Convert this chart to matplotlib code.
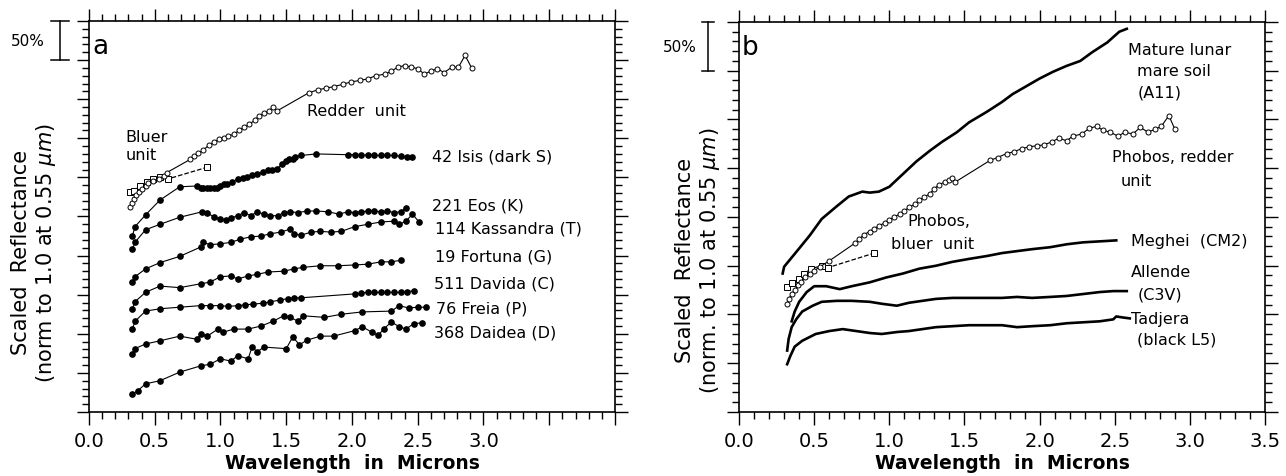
import numpy as np
import matplotlib
matplotlib.use('Agg')
import matplotlib.pyplot as plt
import matplotlib.transforms as mtransforms
from matplotlib.ticker import MultipleLocator

plt.rcParams['font.family'] = 'DejaVu Sans'

# ---- panel a: asteroids + Phobos (scaled, offset) ----
isis_wl = [0.33, 0.35, 0.43, 0.54, 0.69, 0.82, 0.85, 0.87, 0.90, 0.92, 0.95, 0.97,
           1.00, 1.03, 1.05, 1.09, 1.13, 1.17, 1.20, 1.24, 1.28, 1.32, 1.36, 1.39, 1.43, 1.47,
           1.50, 1.52, 1.55, 1.57, 1.61, 1.73,
           1.97, 2.02, 2.07, 2.12, 2.17, 2.22, 2.27, 2.32, 2.37, 2.42, 2.46]
isis_r = [2.25, 2.37, 2.52, 2.71, 2.88, 2.89, 2.87, 2.87, 2.87, 2.86, 2.87, 2.87,
          2.89, 2.92, 2.92, 2.94, 2.98, 2.99, 3.01, 3.03, 3.04, 3.07, 3.09, 3.09, 3.11, 3.17,
          3.21, 3.24, 3.24, 3.26, 3.28, 3.30,
          3.29, 3.29, 3.28, 3.29, 3.28, 3.28, 3.28, 3.28, 3.27, 3.26, 3.26]

eos_wl = [0.33, 0.35, 0.43, 0.54, 0.69, 0.86, 0.90, 0.95, 1.00, 1.04, 1.08, 1.13, 1.18,
          1.23, 1.28, 1.33, 1.38, 1.44, 1.48, 1.53, 1.59, 1.66, 1.73, 1.82, 1.90, 1.97,
          2.02, 2.07, 2.12, 2.17, 2.22, 2.27, 2.32, 2.37, 2.41]
eos_r = [2.08, 2.17, 2.33, 2.40, 2.49, 2.56, 2.55, 2.49, 2.47, 2.46, 2.48, 2.51, 2.55,
         2.51, 2.56, 2.53, 2.51, 2.51, 2.55, 2.56, 2.55, 2.57, 2.57, 2.56, 2.53, 2.56,
         2.55, 2.56, 2.57, 2.57, 2.56, 2.57, 2.55, 2.56, 2.61]

kas_wl = [0.33, 0.35, 0.43, 0.54, 0.69, 0.85, 0.87, 0.92, 1.00, 1.08, 1.15, 1.23, 1.31,
          1.38, 1.46, 1.53, 1.56, 1.61, 1.69, 1.76, 1.84, 1.92, 2.02, 2.12, 2.22, 2.32,
          2.36, 2.41, 2.46, 2.51]
kas_r = [1.66, 1.73, 1.83, 1.91, 1.99, 2.11, 2.17, 2.14, 2.15, 2.17, 2.21, 2.24, 2.25,
         2.28, 2.30, 2.34, 2.28, 2.26, 2.30, 2.31, 2.30, 2.31, 2.37, 2.40, 2.43, 2.44,
         2.40, 2.44, 2.53, 2.43]

for_wl = [0.33, 0.35, 0.43, 0.54, 0.69, 0.85, 0.92, 1.00, 1.08, 1.13, 1.21, 1.28, 1.36,
          1.48, 1.56, 1.63, 1.76, 1.89, 2.02, 2.12, 2.22, 2.30, 2.37]
for_r = [1.32, 1.41, 1.53, 1.61, 1.59, 1.64, 1.66, 1.73, 1.74, 1.70, 1.74, 1.76, 1.79,
         1.80, 1.83, 1.85, 1.87, 1.87, 1.88, 1.89, 1.92, 1.92, 1.94]

dav_wl = [0.33, 0.35, 0.43, 0.54, 0.69, 0.85, 0.92, 1.00, 1.06, 1.13, 1.19, 1.25, 1.32,
          1.38, 1.45, 1.51, 1.56, 1.61, 2.02, 2.07, 2.12, 2.17, 2.22, 2.27, 2.32, 2.37,
          2.42, 2.47]
dav_r = [1.06, 1.16, 1.29, 1.32, 1.34, 1.36, 1.36, 1.36, 1.35, 1.36, 1.37, 1.38, 1.39,
         1.41, 1.43, 1.45, 1.46, 1.46, 1.51, 1.52, 1.53, 1.53, 1.53, 1.53, 1.53, 1.53,
         1.54, 1.55]

fre_wl = [0.33, 0.35, 0.43, 0.54, 0.69, 0.82, 0.85, 0.90, 0.98, 1.02, 1.10, 1.21, 1.31,
          1.40, 1.48, 1.53, 1.59, 1.63, 1.79, 1.92, 2.08, 2.30, 2.36, 2.43, 2.50, 2.56]
fre_r = [0.74, 0.81, 0.87, 0.91, 0.97, 0.93, 1.00, 0.97, 1.06, 1.02, 1.06, 1.06, 1.10,
         1.16, 1.23, 1.21, 1.16, 1.23, 1.21, 1.25, 1.28, 1.29, 1.36, 1.33, 1.34, 1.34]

dai_wl = [0.33, 0.37, 0.43, 0.54, 0.69, 0.85, 0.92, 1.00, 1.08, 1.13, 1.21, 1.24, 1.28,
          1.33, 1.50, 1.55, 1.60, 1.66, 1.76, 1.86, 2.02, 2.08, 2.15, 2.20, 2.24, 2.30,
          2.36, 2.41, 2.47, 2.53]
dai_r = [0.23, 0.27, 0.36, 0.40, 0.51, 0.59, 0.61, 0.68, 0.65, 0.72, 0.68, 0.83, 0.77,
         0.83, 0.81, 0.96, 0.86, 0.92, 0.97, 0.97, 1.04, 1.09, 1.02, 0.98, 1.06, 1.15,
         1.09, 1.06, 1.13, 1.14]

phr_a_wl = [0.31, 0.33, 0.34, 0.36, 0.38, 0.40, 0.43, 0.45, 0.49, 0.53, 0.57, 0.59,
            0.77, 0.80, 0.83, 0.87, 0.91, 0.95, 0.99, 1.03, 1.06, 1.10, 1.14, 1.18, 1.22,
            1.26, 1.29, 1.33, 1.37, 1.40, 1.43,
            1.67, 1.74, 1.80, 1.86, 1.93, 1.99, 2.06, 2.12, 2.18, 2.25, 2.30, 2.35, 2.40,
            2.45, 2.50, 2.55, 2.60, 2.65, 2.70, 2.76, 2.81, 2.86, 2.91]
phr_a_r = [2.62, 2.67, 2.72, 2.77, 2.81, 2.85, 2.89, 2.93, 2.96, 2.98, 3.02, 3.06,
           3.23, 3.27, 3.31, 3.35, 3.41, 3.45, 3.49, 3.51, 3.53, 3.55, 3.60, 3.64, 3.68,
           3.73, 3.78, 3.82, 3.85, 3.90, 3.85,
           4.08, 4.12, 4.14, 4.16, 4.19, 4.22, 4.24, 4.26, 4.30, 4.32, 4.36, 4.41, 4.43,
           4.41, 4.39, 4.32, 4.36, 4.39, 4.34, 4.41, 4.41, 4.56, 4.40]

phb_a_wl = [0.31, 0.34, 0.39, 0.44, 0.49, 0.54, 0.60, 0.90]
phb_a_r = [2.81, 2.83, 2.89, 2.94, 2.98, 3.01, 2.98, 3.13]

asteroid_names = ['42 Isis (dark S)', '221 Eos (K)', '114 Kassandra (T)', '19 Fortuna (G)',
                  '511 Davida (C)', '76 Freia (P)', '368 Daidea (D)']

# ---- panel b: Phobos vs meteorites / lunar soil ----
lunar_wl = [0.29, 0.30, 0.38, 0.47, 0.55, 0.65, 0.73, 0.82, 0.87, 0.93, 1.00, 1.09, 1.18,
            1.27, 1.35, 1.45, 1.53, 1.65, 1.75, 1.82, 1.91, 2.00, 2.09, 2.18, 2.27, 2.35,
            2.45, 2.53, 2.58]
lunar_r = [1.42, 1.49, 1.64, 1.81, 1.98, 2.11, 2.21, 2.26, 2.25, 2.26, 2.31, 2.44, 2.57,
           2.68, 2.77, 2.87, 2.97, 3.08, 3.18, 3.26, 3.34, 3.42, 3.49, 3.55, 3.60, 3.69,
           3.79, 3.90, 3.93]

phr_b_wl = [0.32, 0.33, 0.35, 0.37, 0.39, 0.41, 0.44, 0.47, 0.50, 0.54, 0.60,
            0.77, 0.80, 0.83, 0.87, 0.90, 0.93, 0.97, 1.00, 1.03, 1.07, 1.10, 1.13, 1.17,
            1.20, 1.23, 1.27, 1.30, 1.33, 1.37, 1.40, 1.42, 1.44,
            1.67, 1.72, 1.78, 1.83, 1.88, 1.93, 1.98, 2.03, 2.08, 2.13, 2.18, 2.22, 2.28,
            2.33, 2.38, 2.42, 2.47, 2.52, 2.57, 2.62, 2.67, 2.72, 2.77, 2.81, 2.86, 2.90]
phr_b_r = [1.11, 1.16, 1.21, 1.25, 1.30, 1.33, 1.38, 1.42, 1.45, 1.49, 1.55,
           1.73, 1.77, 1.82, 1.85, 1.88, 1.91, 1.94, 1.97, 2.00, 2.03, 2.06, 2.10, 2.13,
           2.17, 2.20, 2.24, 2.29, 2.33, 2.36, 2.38, 2.40, 2.36,
           2.58, 2.61, 2.65, 2.67, 2.70, 2.72, 2.73, 2.74, 2.77, 2.81, 2.78, 2.83, 2.85,
           2.91, 2.93, 2.89, 2.87, 2.83, 2.87, 2.85, 2.92, 2.87, 2.90, 2.93, 3.04, 2.90]

phb_b_wl = [0.32, 0.35, 0.40, 0.43, 0.48, 0.55, 0.59, 0.90]
phb_b_r = [1.28, 1.32, 1.36, 1.42, 1.47, 1.50, 1.48, 1.63]

meg_wl = [0.35, 0.37, 0.40, 0.45, 0.50, 0.58, 0.67, 0.75, 0.87, 0.98, 1.09, 1.20, 1.31,
          1.42, 1.53, 1.65, 1.75, 1.85, 1.95, 2.07, 2.18, 2.29, 2.40, 2.51]
meg_r = [0.93, 1.03, 1.13, 1.23, 1.29, 1.29, 1.26, 1.29, 1.33, 1.38, 1.42, 1.47, 1.50,
         1.54, 1.57, 1.60, 1.63, 1.65, 1.67, 1.69, 1.72, 1.74, 1.75, 1.76]

all_wl = [0.32, 0.33, 0.35, 0.38, 0.42, 0.49, 0.55, 0.65, 0.75, 0.87, 0.95, 1.05, 1.13,
          1.22, 1.31, 1.42, 1.53, 1.65, 1.75, 1.85, 1.95, 2.07, 2.18, 2.29, 2.40, 2.49, 2.58]
all_r = [0.63, 0.75, 0.87, 0.95, 1.03, 1.09, 1.13, 1.14, 1.14, 1.13, 1.11, 1.09, 1.12,
         1.14, 1.16, 1.17, 1.17, 1.17, 1.17, 1.18, 1.17, 1.18, 1.19, 1.21, 1.23, 1.24, 1.24]

tad_wl = [0.32, 0.34, 0.37, 0.42, 0.51, 0.60, 0.69, 0.78, 0.87, 0.95, 1.05, 1.13, 1.22,
          1.31, 1.42, 1.53, 1.65, 1.75, 1.85, 1.95, 2.07, 2.18, 2.29, 2.40, 2.49, 2.51,
          2.55, 2.60]
tad_r = [0.49, 0.57, 0.67, 0.73, 0.80, 0.83, 0.85, 0.83, 0.81, 0.80, 0.82, 0.83, 0.85,
         0.87, 0.88, 0.89, 0.89, 0.89, 0.87, 0.88, 0.89, 0.91, 0.92, 0.93, 0.95, 0.98,
         0.97, 0.96]

xtick_a = ['0.0', '0.5', '1.0', '1.5', '2.0', '2.5', '3.0', '', '']
xtick_b = ['0.0', '0.5', '1.0', '1.5', '2.0', '2.5', '3.0', '3.5']


def style_axes(ax, xmax, ymax, labels):
    ax.set_xlim(0, xmax)
    ax.set_ylim(0, ymax)
    ax.set_xticks(np.arange(0, xmax + 0.01, 0.5))
    ax.set_xticklabels(labels)
    ax.xaxis.set_minor_locator(MultipleLocator(0.1))
    ax.yaxis.set_major_locator(MultipleLocator(0.5))
    ax.yaxis.set_minor_locator(MultipleLocator(0.1))
    ax.tick_params(which='both', direction='out', top=True, right=True,
                   labelleft=False, width=1)
    ax.tick_params(which='major', length=9, labelsize=14, pad=5)
    ax.tick_params(which='minor', length=5)
    for s in ax.spines.values():
        s.set_linewidth(1.2)
    ax.set_xlabel('Wavelength  in  Microns', fontsize=13.5, fontweight='bold', labelpad=2)


def scale_bar(ax, x, cap, y0, y1, tx):
    tr = mtransforms.blended_transform_factory(ax.transAxes, ax.transData)
    kw = dict(color='k', lw=1.1, transform=tr, clip_on=False)
    ax.plot([x, x], [y0, y1], **kw)
    ax.plot([x - cap, x + cap], [y0, y0], **kw)
    ax.plot([x - cap, x + cap], [y1, y1], **kw)
    ax.text(tx, (y0 + y1) / 2, '50%', transform=tr, ha='right', va='center', fontsize=11)


fig = plt.figure(figsize=(12.86, 4.77), dpi=100)
ax1 = fig.add_axes([0.0692, 0.1342, 0.4090, 0.8197])
ax2 = fig.add_axes([0.5747, 0.1342, 0.4090, 0.8176])

# panel a
dots = dict(color='k', marker='o', ms=3.8, lw=0.8)
for wl, r in [(isis_wl, isis_r), (eos_wl, eos_r), (kas_wl, kas_r), (for_wl, for_r),
              (dav_wl, dav_r), (fre_wl, fre_r), (dai_wl, dai_r)]:
    ax1.plot(wl, r, **dots)
ax1.plot(phb_a_wl, phb_a_r, color='k', ls='--', lw=0.9, marker='s', ms=4,
         mfc='white', mew=0.7)
ax1.plot(phr_a_wl, phr_a_r, color='k', lw=0.8, marker='o', ms=3.6, mfc='white', mew=0.7)

style_axes(ax1, 4.0, 5.0, xtick_a)
ax1.set_ylabel('Scaled  Reflectance\n(norm to 1.0 at 0.55 $\\mu m$)', fontsize=15,
               linespacing=1.2)
ax1.yaxis.set_label_coords(-0.058, 0.41)
scale_bar(ax1, -0.055, 0.017, 4.5, 5.0, -0.084)
ax1.text(0.09, 4.68, 'a', fontsize=19, ha='center', va='center')
ax1.text(0.275, 3.41, 'Bluer\nunit', fontsize=11.5, ha='left', va='center', linespacing=1.3)
ax1.text(1.66, 3.86, 'Redder  unit', fontsize=11.5, ha='left', va='center')
name_y = [3.27, 2.65, 2.35, 2.00, 1.65, 1.33, 1.02]
name_x = [2.61, 2.61, 2.63, 2.63, 2.62, 2.64, 2.62]
for nx, ny, name in zip(name_x, name_y, asteroid_names):
    ax1.text(nx, ny, name, fontsize=11.5, ha='left', va='center')

# panel b
for wl, r in [(lunar_wl, lunar_r), (meg_wl, meg_r), (all_wl, all_r), (tad_wl, tad_r)]:
    ax2.plot(wl, r, color='k', lw=1.9)
ax2.plot(phb_b_wl, phb_b_r, color='k', ls='--', lw=0.9, marker='s', ms=4,
         mfc='white', mew=0.7)
ax2.plot(phr_b_wl, phr_b_r, color='k', lw=0.8, marker='o', ms=3.6, mfc='white', mew=0.7)

style_axes(ax2, 3.5, 4.0, xtick_b)
ax2.set_ylabel('Scaled  Reflectance\n(norm. to 1.0 at 0.55 $\\mu m$)', fontsize=15,
               linespacing=1.2)
ax2.yaxis.set_label_coords(-0.032, 0.39)
scale_bar(ax2, -0.059, 0.0115, 3.5, 4.0, -0.080)
ax2.text(0.07, 3.74, 'b', fontsize=19, ha='center', va='center')
b_labels = [('Mature lunar', 2.59, 3.72), ('mare soil', 2.65, 3.50), ('(A11)', 2.65, 3.28),
            ('Phobos, redder', 2.48, 2.62), ('unit', 2.54, 2.37),
            ('Phobos,', 1.12, 1.96), ('bluer  unit', 1.01, 1.73),
            ('Meghei  (CM2)', 2.61, 1.76),
            ('Allende', 2.61, 1.44), ('(C3V)', 2.65, 1.21),
            ('Tadjera', 2.61, 0.96), ('(black L5)', 2.65, 0.75)]
for txt, tx, ty in b_labels:
    ax2.text(tx, ty, txt, fontsize=11.5, ha='left', va='center')

fig.savefig('out.png', dpi=100)
